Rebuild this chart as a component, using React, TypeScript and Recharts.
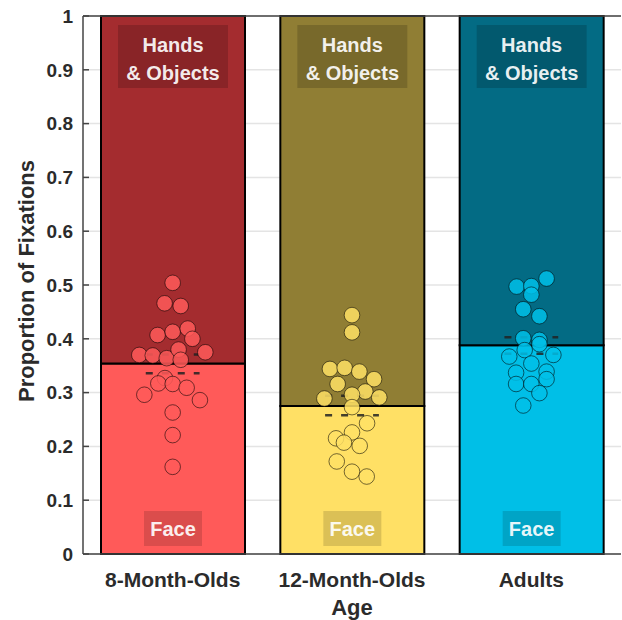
import {
  ComposedChart,
  Bar,
  Scatter,
  XAxis,
  YAxis,
  CartesianGrid,
  ReferenceLine,
  LabelList,
  Cell,
  Label,
} from "recharts";

const ageGroups = ["8-Month-Olds", "12-Month-Olds", "Adults"];
const faceMeans = [0.354, 0.275, 0.388];
const ciLow = [0.336, 0.258, 0.372];
const ciHigh = [0.371, 0.294, 0.403];
const yTicks = [0, 0.1, 0.2, 0.3, 0.4, 0.5, 0.6, 0.7, 0.8, 0.9, 1];

// per-participant face proportions and their horizontal spread (category units)
const face8mo = [
  0.504, 0.466, 0.461, 0.407, 0.413, 0.419, 0.4, 0.37, 0.369, 0.364, 0.38,
  0.361, 0.375, 0.327, 0.317, 0.316, 0.309, 0.296, 0.286, 0.263, 0.221, 0.162,
];
const jitter8mo = [
  0, -0.045, 0.045, -0.084, 0, 0.084, 0.11, -0.186, -0.111, -0.033, 0.033,
  0.045, 0.182, -0.043, -0.08, 0, 0.078, -0.158, 0.152, 0, 0, 0,
];
const face12mo = [
  0.444, 0.412, 0.344, 0.346, 0.339, 0.325, 0.316, 0.302, 0.296, 0.289, 0.291,
  0.273, 0.243, 0.226, 0.215, 0.207, 0.201, 0.172, 0.153, 0.144,
];
const jitter12mo = [
  0, 0, -0.123, -0.041, 0.041, 0.123, -0.08, 0.074, 0, -0.154, 0.152, 0,
  0.084, 0, -0.089, -0.045, 0.043, -0.085, 0, 0.082,
];
const faceAdults = [
  0.512, 0.497, 0.498, 0.482, 0.455, 0.442, 0.401, 0.398, 0.379, 0.39, 0.367,
  0.37, 0.354, 0.337, 0.339, 0.325, 0.316, 0.316, 0.299, 0.276,
];
const jitterAdults = [
  0.085, -0.082, 0, 0, -0.045, 0.045, -0.045, 0.045, -0.037, 0.045, -0.123,
  0.123, 0, -0.085, 0.085, 0.085, -0.085, 0, 0.045, -0.045,
];

const topColors = ["#a42c2f", "#907e34", "#036b84"];
const faceColors = ["#ff5a59", "#ffe065", "#00bfe7"];
const textColor = "#2b2b2b";
const font = "'Liberation Sans', Arial, Helvetica, sans-serif";

const barData = ageGroups.map((age, i) => ({
  age,
  face: faceMeans[i],
  hands: +(1 - faceMeans[i]).toFixed(3),
}));

const toPoints = (vals: number[], jit: number[], group: number) =>
  vals.map((v, j) => ({ x: group + 1 + jit[j], y: v }));

const scatterSets = [
  toPoints(face8mo, jitter8mo, 0),
  toPoints(face12mo, jitter12mo, 1),
  toPoints(faceAdults, jitterAdults, 2),
];

const dot = (color: string) => (props: any) =>
  (
    <circle
      cx={props.cx}
      cy={props.cy}
      r={7.8}
      fill={color}
      fillOpacity={0.85}
      stroke="#000"
      strokeOpacity={0.55}
      strokeWidth={1}
    />
  );

const HandsLabel = (props: any) => {
  const { x, y, width } = props;
  const cx = x + width / 2;
  return (
    <g>
      <rect x={cx - 55} y={y + 9} width={110} height={63} fill="#000" fillOpacity={0.16} />
      <text x={cx} y={y + 36} textAnchor="middle" fill="#fff" fillOpacity={0.92}
        fontFamily={font} fontWeight="bold" fontSize={20}>
        Hands
      </text>
      <text x={cx} y={y + 64} textAnchor="middle" fill="#fff" fillOpacity={0.92}
        fontFamily={font} fontWeight="bold" fontSize={20}>
        &amp; Objects
      </text>
    </g>
  );
};

const FaceLabel = (props: any) => {
  const { x, y, width, height } = props;
  const cx = x + width / 2;
  const bottom = y + height;
  return (
    <g>
      <rect x={cx - 29} y={bottom - 43} width={58} height={35} fill="#000" fillOpacity={0.14} />
      <text x={cx} y={bottom - 18} textAnchor="middle" fill="#fff" fillOpacity={0.92}
        fontFamily={font} fontWeight="bold" fontSize={20}>
        Face
      </text>
    </g>
  );
};

const YTick = (props: any) => {
  const { x, y, payload } = props;
  return (
    <g>
      <line x1={x + 10} x2={x + 16} y1={y} y2={y} stroke="#444" strokeWidth={1.5} />
      <text x={x} y={y} dy="0.36em" textAnchor="end" fill={textColor}
        fontFamily={font} fontWeight="bold" fontSize={19}>
        {String(payload.value)}
      </text>
    </g>
  );
};

// inward tick marks on the right-hand box edge
const RightTick = (props: any) => {
  const { x, y } = props;
  return <line x1={x - 6} x2={x} y1={y} y2={y} stroke="#444" strokeWidth={1.5} />;
};

const YTitle = (props: any) => {
  const { viewBox } = props;
  const x = viewBox.x + 34;
  const y = viewBox.y + viewBox.height / 2 - 4;
  return (
    <text x={x} y={y} transform={`rotate(-90, ${x}, ${y})`} textAnchor="middle"
      fill={textColor} fontFamily={font} fontWeight="bold" fontSize={22}>
      Proportion of Fixations
    </text>
  );
};

export default function App() {
  return (
    <div
      style={{
        position: "absolute",
        left: 0,
        top: 0,
        width: 622,
        height: 620,
        overflow: "hidden",
        background: "#fff",
      }}
    >
      <ComposedChart
        width={622}
        height={620}
        data={barData}
        margin={{ top: 16, right: 1, bottom: 0, left: 0 }}
      >
        <CartesianGrid vertical={false} stroke="#e4e4e4" strokeWidth={1.5} />
        <XAxis
          dataKey="age"
          height={66}
          tickSize={0}
          tickMargin={18}
          tickLine={false}
          axisLine={{ stroke: "#444", strokeWidth: 1.5 }}
          tick={{ fill: textColor, fontSize: 21, fontWeight: "bold", fontFamily: font }}
        >
          <Label
            value="Age"
            position="insideBottom"
            offset={5}
            fill={textColor}
            fontSize={22}
            fontWeight="bold"
            fontFamily={font}
          />
        </XAxis>
        <XAxis xAxisId="num" type="number" dataKey="x" domain={[0.5, 3.5]} hide />
        <YAxis
          type="number"
          domain={[0, 1]}
          ticks={yTicks}
          width={83}
          tickSize={0}
          tickMargin={10}
          tickLine={false}
          axisLine={{ stroke: "#444", strokeWidth: 1.5 }}
          tick={YTick}
          interval={0}
        >
          <Label content={YTitle} />
        </YAxis>
        <YAxis
          yAxisId="right"
          orientation="right"
          type="number"
          domain={[0, 1]}
          ticks={yTicks}
          width={0}
          tickSize={0}
          tickMargin={0}
          tickLine={false}
          axisLine={false}
          tick={RightTick}
          interval={0}
        />

        <Bar dataKey="face" stackId="s" barSize={144} stroke="#000" strokeWidth={2}
          isAnimationActive={false}>
          {barData.map((d, i) => (
            <Cell key={d.age} fill={faceColors[i]} />
          ))}
          <LabelList dataKey="face" content={FaceLabel} />
        </Bar>
        <Bar dataKey="hands" stackId="s" barSize={144} stroke="#000" strokeWidth={2}
          isAnimationActive={false}>
          {barData.map((d, i) => (
            <Cell key={d.age} fill={topColors[i]} />
          ))}
          <LabelList dataKey="hands" content={HandsLabel} />
        </Bar>

        {scatterSets.map((pts, i) => (
          <Scatter
            key={ageGroups[i]}
            xAxisId="num"
            data={pts}
            dataKey="y"
            shape={dot(faceColors[i])}
            isAnimationActive={false}
          />
        ))}

        {ageGroups.map((age, i) =>
          [ciLow[i], ciHigh[i]].map((v) => (
            <ReferenceLine
              key={`${age}-${v}`}
              xAxisId="num"
              segment={[
                { x: i + 0.85, y: v },
                { x: i + 1.15, y: v },
              ]}
              stroke="#222"
              strokeOpacity={0.85}
              strokeWidth={2.5}
              strokeDasharray="7 9"
            />
          ))
        )}

        <ReferenceLine y={1} stroke="#444" strokeWidth={1.5} />
      </ComposedChart>
    </div>
  );
}
